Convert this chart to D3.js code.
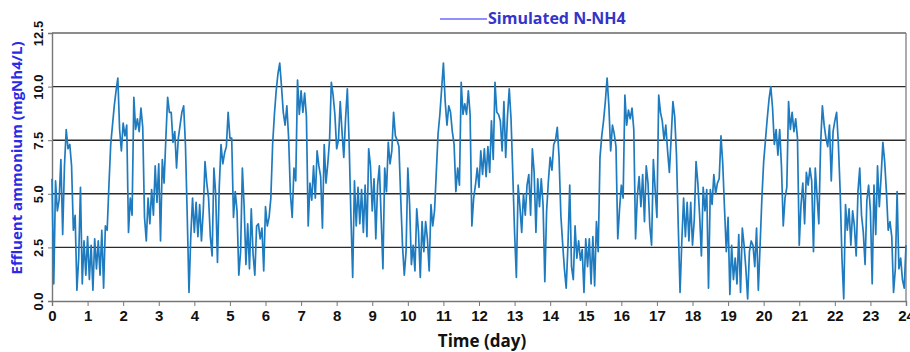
<!DOCTYPE html>
<html>
<head>
<meta charset="utf-8">
<script src="https://cdn.jsdelivr.net/npm/d3@7"></script>
<style>
  body { margin: 0; background: #fff; }
  svg { display: block; font-family: "Open Sans", "Noto Sans", sans-serif; }
</style>
</head>
<body>
<div id="chart"></div>
<script>
// sampled every 0.05 day, one row per day
const stepDays = 0.05;
const nh4 = [
  5.7, 0.8, 5.6, 4.2, 4.7, 6.6, 3.1, 6.3, 8.0, 7.1, 7.3, 6.3, 3.3, 4.0, 0.5, 2.0, 5.3, 0.8, 2.8, 1.2,
  3.0, 1.0, 2.6, 0.5, 2.9, 1.5, 2.8, 1.2, 3.3, 0.6, 3.5, 3.3, 5.4, 7.3, 8.2, 9.1, 9.8, 10.4, 8.0, 7.0,
  8.3, 7.7, 8.2, 3.2, 4.8, 4.0, 9.5, 8.0, 8.5, 7.9, 9.0, 8.1, 3.9, 2.8, 4.8, 3.6, 5.2, 4.0, 6.3, 4.6,
  6.4, 2.8, 6.6, 5.5, 7.6, 9.5, 8.8, 8.8, 7.4, 7.9, 6.2, 7.6, 8.2, 8.8, 9.1, 7.3, 4.0, 0.4, 3.0, 4.8,
  3.2, 4.6, 3.0, 4.5, 2.8, 4.2, 6.5, 5.5, 4.8, 3.0, 2.1, 6.2, 5.0, 1.8, 5.3, 7.3, 6.4, 6.9, 7.2, 8.8,
  7.6, 7.6, 3.9, 5.1, 4.2, 1.2, 2.3, 6.2, 4.4, 1.7, 3.6, 1.5, 4.3, 2.2, 1.2, 3.5, 3.6, 2.9, 3.4, 1.4,
  4.4, 3.5, 3.9, 4.8, 7.3, 8.7, 9.8, 10.6, 11.1, 10.0, 8.8, 8.2, 9.1, 7.6, 5.0, 3.9, 6.2, 5.6, 10.3, 8.7,
  9.8, 8.8, 9.7, 8.6, 3.5, 5.5, 4.7, 6.3, 4.8, 7.0, 6.3, 5.8, 3.4, 7.3, 5.5, 6.4, 7.5, 10.2, 9.6, 8.7,
  7.1, 7.5, 9.3, 7.9, 6.7, 8.5, 9.9, 7.4, 4.0, 1.1, 5.6, 3.5, 5.3, 3.6, 5.2, 3.2, 5.4, 3.0, 7.1, 6.3,
  4.2, 5.7, 2.9, 5.4, 6.3, 3.9, 1.5, 6.2, 5.1, 7.4, 6.4, 7.0, 8.8, 7.7, 7.5, 7.2, 4.8, 2.6, 1.2, 2.3,
  6.2, 4.5, 1.7, 2.6, 1.4, 4.3, 3.2, 1.1, 3.7, 2.3, 3.7, 2.9, 1.4, 4.5, 3.5, 4.2, 6.0, 7.8, 8.7, 9.9,
  11.1, 9.3, 8.2, 9.1, 8.8, 7.9, 7.3, 5.1, 6.2, 5.4, 10.2, 8.7, 9.2, 8.7, 9.8, 8.7, 3.5, 4.8, 5.4, 6.2,
  5.3, 7.0, 5.9, 7.1, 5.8, 7.2, 6.0, 8.4, 6.6, 10.2, 8.8, 8.7, 8.4, 7.0, 9.3, 6.7, 8.6, 9.9, 8.5, 5.9,
  3.2, 1.1, 5.4, 4.4, 3.2, 5.0, 4.0, 5.4, 5.9, 4.0, 7.1, 6.0, 3.2, 5.7, 4.4, 5.7, 4.5, 0.9, 4.2, 5.6,
  6.7, 6.1, 7.3, 7.5, 8.1, 6.7, 4.0, 2.7, 1.5, 0.6, 2.6, 5.4, 1.6, 1.0, 3.5, 2.0, 2.8, 1.9, 2.4, 0.4,
  2.9, 1.6, 2.9, 0.8, 3.0, 0.7, 3.7, 2.3, 6.7, 7.7, 8.4, 9.3, 10.4, 9.1, 7.0, 8.2, 7.8, 7.2, 2.9, 4.3,
  5.4, 4.8, 9.6, 8.2, 8.9, 8.5, 9.0, 8.0, 2.9, 4.9, 5.8, 4.4, 5.9, 3.7, 6.3, 5.5, 3.5, 2.6, 6.6, 5.2,
  3.9, 9.6, 8.8, 8.4, 7.5, 8.2, 7.0, 6.0, 7.6, 9.3, 8.6, 6.8, 3.5, 0.4, 2.8, 4.8, 3.0, 4.6, 2.8, 4.6,
  2.6, 3.8, 6.5, 5.5, 4.0, 2.1, 5.3, 4.2, 5.2, 0.6, 5.2, 4.5, 5.9, 5.0, 5.5, 5.7, 7.7, 6.4, 4.3, 2.3,
  3.9, 0.3, 2.6, 1.0, 2.0, 0.8, 3.1, 0.4, 3.4, 2.6, 1.5, 0.1, 2.3, 2.8, 2.6, 1.6, 3.4, 0.5, 2.6, 4.8,
  6.5, 7.5, 8.5, 9.4, 10.0, 9.0, 7.3, 8.0, 6.8, 8.0, 6.3, 3.5, 4.8, 5.3, 9.3, 8.0, 8.8, 7.9, 8.5, 7.6,
  2.6, 4.5, 5.5, 3.6, 6.0, 5.4, 6.2, 5.6, 2.3, 6.2, 4.9, 3.6, 7.3, 9.1, 8.2, 7.6, 7.2, 8.2, 5.6, 7.9,
  8.4, 8.8, 7.3, 5.1, 2.0, 0.1, 4.5, 3.3, 4.3, 2.6, 4.2, 3.5, 2.1, 5.1, 6.2, 4.0, 3.2, 1.7, 4.7, 5.4,
  4.2, 0.8, 5.4, 3.1, 6.3, 4.4, 5.8, 7.4, 6.5, 5.1, 3.3, 3.7, 3.0, 0.4, 1.5, 5.1, 1.5, 2.0, 1.0, 0.6,
  2.6
];
const dayTicks = d3.range(0, 25);
const yTicks = [0, 2.5, 5, 7.5, 10, 12.5];
const gridLevels = [2.5, 5, 7.5, 10, 12.5];

const width = 910, height = 352;
const plot = { left: 52, right: 906, top: 33, bottom: 301 };

const svg = d3.select("#chart").append("svg")
  .attr("width", width)
  .attr("height", height);

const x = d3.scaleLinear().domain([0, 24]).range([plot.left, plot.right]);
const y = d3.scaleLinear().domain([0, 12.5]).range([plot.bottom, plot.top]);

// grid lines
svg.append("g")
  .selectAll("line")
  .data(gridLevels)
  .join("line")
    .attr("x1", plot.left)
    .attr("x2", plot.right)
    .attr("y1", d => y(d))
    .attr("y2", d => y(d))
    .attr("stroke", d => d === 12.5 ? "#666" : "#2b2b2b")
    .attr("stroke-width", 1.4);

// right border
svg.append("line")
  .attr("x1", plot.right).attr("x2", plot.right)
  .attr("y1", plot.top).attr("y2", plot.bottom)
  .attr("stroke", "#888")
  .attr("stroke-width", 1.4);

// x axis
const xAxis = svg.append("g")
  .attr("transform", `translate(0,${plot.bottom})`)
  .call(d3.axisBottom(x).tickValues(dayTicks).tickFormat(d3.format("d")).tickSize(5).tickPadding(4));
xAxis.select(".domain").attr("stroke", "#777").attr("stroke-width", 1.4);
xAxis.selectAll(".tick line").attr("stroke", "#777");
xAxis.selectAll("text")
  .attr("fill", "#111")
  .style("font-size", "15px")
  .style("font-weight", "700");

// y axis
const yAxis = svg.append("g")
  .attr("transform", `translate(${plot.left},0)`)
  .call(d3.axisLeft(y).tickValues(yTicks).tickFormat(d3.format(".1f")).tickSize(4).tickPadding(4));
yAxis.select(".domain").attr("stroke", "#777").attr("stroke-width", 1.4);
yAxis.selectAll(".tick line").attr("stroke", "#777");
yAxis.selectAll("text")
  .attr("fill", "#111")
  .attr("transform", "rotate(-90)")
  .attr("x", 0)
  .attr("y", -9)
  .attr("dy", "0")
  .attr("text-anchor", "middle")
  .style("font-size", "13px")
  .style("font-weight", "700");

// the series
const line = d3.line()
  .x((d, i) => x(i * stepDays))
  .y(d => y(d));

svg.append("path")
  .datum(nh4)
  .attr("d", line)
  .attr("fill", "none")
  .attr("stroke", "#1f7bbf")
  .attr("stroke-width", 1.7)
  .attr("stroke-linejoin", "round");

// axis titles
svg.append("text")
  .attr("transform", "translate(22,158) rotate(-90)")
  .attr("text-anchor", "middle")
  .attr("fill", "#2a2ae6")
  .style("font-size", "15px")
  .style("font-weight", "700")
  .text("Effluent ammonium (mgNh4/L)");

svg.append("text")
  .attr("x", 482)
  .attr("y", 347)
  .attr("text-anchor", "middle")
  .attr("fill", "#111")
  .style("font-size", "17px")
  .style("font-weight", "700")
  .text("Time (day)");

// legend
svg.append("line")
  .attr("x1", 440).attr("x2", 487)
  .attr("y1", 19).attr("y2", 19)
  .attr("stroke", "#6a6aff")
  .attr("stroke-width", 1.5);

svg.append("text")
  .attr("x", 488)
  .attr("y", 24)
  .attr("fill", "#3434c8")
  .style("font-size", "16px")
  .style("font-weight", "700")
  .text("Simulated N-NH4");
</script>
</body>
</html>
